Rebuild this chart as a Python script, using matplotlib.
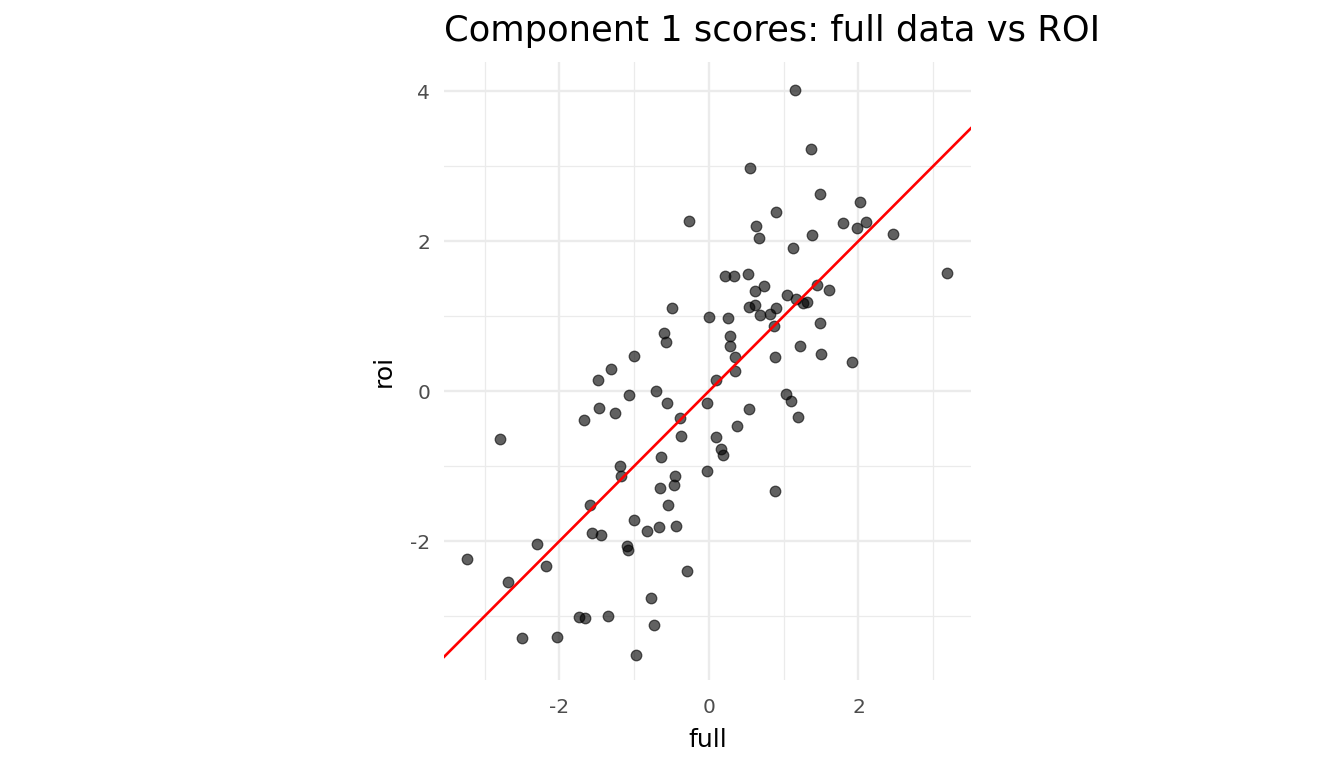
import matplotlib.pyplot as plt
import numpy as np

plt.rcParams["axes.unicode_minus"] = False

# component 1 scores
full = [
    1.15, 1.36, 0.55, 1.48, 2.02, -0.27, 0.90, 0.63, 0.67, 1.38,
    1.79, 1.98, 2.10, 2.46, 1.12, 3.18, 0.21, 0.33, 0.52, 0.74,
    0.62, 1.44, 1.61, 1.04, 1.16, 1.26, 1.31, 0.54, 0.62, 0.82,
    0.90, 0.68, -0.49, 0.00, 0.25, -0.60, -0.58, 0.28, 0.28, 0.87,
    1.48, 1.22, 1.50, 1.91, 0.88, 0.35, 0.35, -1.00, -1.31, -1.48,
    0.09, -0.71, -1.07, 1.03, 1.10, 1.19, -1.47, -1.26, -0.56, -0.03,
    0.54, -0.39, -1.67, -0.37, 0.37, 0.09, -2.80, 0.16, 0.19, -0.64,
    -1.19, -1.18, -0.03, -0.45, -0.47, -0.66, 0.88, -0.55, -1.59, -1.00,
    -0.44, -0.67, -0.83, -1.57, -1.44, -2.30, -3.24, -1.10, -1.08, -2.18,
    -0.29, -2.69, -0.78, -1.74, -1.66, -1.35, -0.74, -2.50, -2.03, -0.98,
]
roi = [
    4.01, 3.23, 2.97, 2.63, 2.52, 2.27, 2.39, 2.20, 2.04, 2.08,
    2.24, 2.17, 2.25, 2.09, 1.91, 1.57, 1.53, 1.53, 1.56, 1.40,
    1.33, 1.41, 1.35, 1.28, 1.23, 1.17, 1.19, 1.12, 1.15, 1.03,
    1.11, 1.01, 1.11, 0.99, 0.97, 0.77, 0.65, 0.73, 0.60, 0.87,
    0.91, 0.60, 0.49, 0.39, 0.45, 0.45, 0.27, 0.47, 0.29, 0.15,
    0.15, 0.00, -0.05, -0.04, -0.13, -0.35, -0.23, -0.29, -0.16, -0.16,
    -0.24, -0.36, -0.39, -0.60, -0.47, -0.61, -0.64, -0.77, -0.85, -0.88,
    -1.00, -1.13, -1.07, -1.13, -1.25, -1.29, -1.33, -1.52, -1.52, -1.72,
    -1.80, -1.81, -1.87, -1.89, -1.92, -2.04, -2.24, -2.07, -2.12, -2.33,
    -2.40, -2.55, -2.76, -3.01, -3.03, -3.00, -3.12, -3.29, -3.28, -3.52,
]

major_ticks = [-2, 0, 2, 4]
minor_ticks = [-3, -1, 1, 3]

fig = plt.figure(figsize=(13.44, 7.68), dpi=100)
ax = fig.add_axes([444 / 1344, 88 / 768, 527 / 1344, 618 / 768])

x0, x1 = -3.545, 3.505
y0, y1 = -3.853, 4.387
ax.set_xlim(x0, x1)
ax.set_ylim(y0, y1)

for spine in ax.spines.values():
    spine.set_visible(False)

ax.set_xticks([t for t in major_ticks if x0 < t < x1])
ax.set_yticks([t for t in major_ticks if y0 < t < y1])
ax.set_xticks(minor_ticks, minor=True)
ax.set_yticks(minor_ticks, minor=True)
ax.grid(True, which="major", color="#EBEBEB", linewidth=1.7)
ax.grid(True, which="minor", color="#EBEBEB", linewidth=0.9)
ax.set_axisbelow(True)
ax.tick_params(which="both", length=0)
ax.tick_params(axis="both", labelsize=14.5, labelcolor="#4D4D4D")
ax.tick_params(axis="x", pad=13)
ax.tick_params(axis="y", pad=10)

ax.scatter(full, roi, s=58, color="black", alpha=0.62,
           edgecolors="black", linewidths=0.9, zorder=2)

line = np.array([x0, x1])
ax.plot(line, line, color="red", linewidth=1.9, zorder=3)

ax.set_xlabel("full", fontsize=18, labelpad=8)
ax.set_ylabel("roi", fontsize=18, labelpad=10)
ax.set_title("Component 1 scores: full data vs ROI", fontsize=25.4,
             loc="left", pad=15)

fig.savefig("out.png", dpi=100)
